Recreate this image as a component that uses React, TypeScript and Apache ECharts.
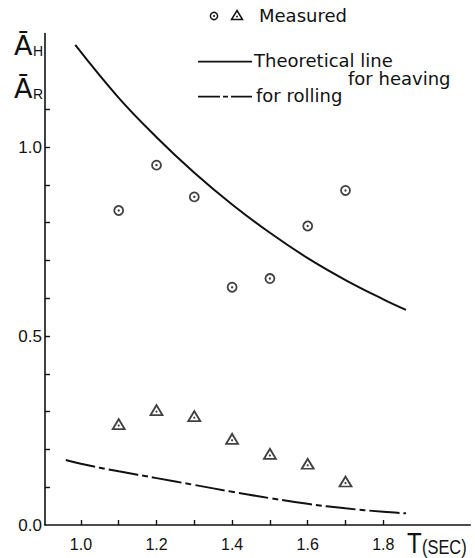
import React, { useEffect, useRef } from "react";
import * as echarts from "echarts";

// Measured data (periods in seconds)
const measuredT = [1.1, 1.2, 1.3, 1.4, 1.5, 1.6, 1.7];
const measuredHeave = [0.832, 0.952, 0.868, 0.629, 0.652, 0.791, 0.885];
const measuredRoll = [0.267, 0.304, 0.288, 0.228, 0.188, 0.162, 0.115];

// Theoretical lines
const heaveT = [0.985, 1.1, 1.2, 1.3, 1.4, 1.5, 1.6, 1.7, 1.8, 1.86];
const heaveA = [1.27, 1.13, 1.026, 0.932, 0.848, 0.773, 0.706, 0.648, 0.597, 0.569];
const rollT = [0.96, 1.0, 1.1, 1.2, 1.3, 1.4, 1.5, 1.6, 1.7, 1.8, 1.86];
const rollA = [0.172, 0.162, 0.142, 0.124, 0.106, 0.088, 0.071, 0.056, 0.044, 0.035, 0.031];

// Axis ticks / labels
const xTicks = [1.0, 1.1, 1.2, 1.3, 1.4, 1.5, 1.6, 1.7, 1.8];
const xLabels = [1.0, 1.2, 1.4, 1.6, 1.8];
const yTicks = [0.1, 0.2, 0.3, 0.4, 0.5, 0.6, 0.7, 0.8, 0.9, 1.0, 1.1];
const yLabels = [0, 0.5, 1.0];

const NUM_FONT = "'Liberation Sans', sans-serif";
const TXT_FONT = "'DejaVu Sans', sans-serif";
const INK = "#111";

export default function App() {
  const ref = useRef<HTMLDivElement>(null);

  useEffect(() => {
    if (!ref.current) return;
    const chart = echarts.init(ref.current, undefined, { renderer: "svg" });
    const pair = (xs: number[], ys: number[]) => xs.map((x, i) => [x, ys[i]]);

    chart.setOption({
      animation: false,
      backgroundColor: "#fff",
      grid: { left: 45, top: 33.6, width: 425.25, height: 491.4, containLabel: false },
      xAxis: {
        type: "value",
        min: 0.905,
        max: 2.03,
        axisLine: { show: true, lineStyle: { color: INK, width: 1.6 } },
        axisTick: { show: true, inside: true, length: 5, customValues: xTicks, lineStyle: { color: INK, width: 1.4 } },
        axisLabel: {
          customValues: xLabels,
          formatter: (v: number) => v.toFixed(1),
          color: INK,
          fontSize: 16,
          fontFamily: NUM_FONT,
          margin: 11,
        },
        splitLine: { show: false },
      },
      yAxis: {
        type: "value",
        min: 0,
        max: 1.3,
        axisLine: { show: true, lineStyle: { color: INK, width: 1.6 } },
        axisTick: { show: true, inside: true, length: 5, customValues: yTicks, lineStyle: { color: INK, width: 1.4 } },
        axisLabel: {
          customValues: yLabels,
          formatter: (v: number) => v.toFixed(1),
          color: INK,
          fontSize: 17,
          fontFamily: NUM_FONT,
          margin: 3,
        },
        splitLine: { show: false },
      },
      series: [
        {
          type: "line",
          data: pair(heaveT, heaveA),
          smooth: 0.4,
          showSymbol: false,
          symbol: "none",
          lineStyle: { color: INK, width: 2 },
        },
        {
          type: "line",
          data: pair(rollT, rollA),
          smooth: 0.4,
          showSymbol: false,
          symbol: "none",
          lineStyle: { color: INK, width: 2, type: [30, 4, 6, 4] },
        },
        {
          type: "scatter",
          data: pair(measuredT, measuredHeave),
          symbol: "circle",
          symbolSize: 9,
          itemStyle: { color: "#fff", borderColor: INK, borderWidth: 1.8 },
          z: 3,
        },
        {
          type: "scatter",
          data: pair(measuredT, measuredHeave),
          symbol: "circle",
          symbolSize: 2.4,
          itemStyle: { color: INK },
          z: 4,
        },
        {
          type: "scatter",
          data: pair(measuredT, measuredRoll),
          symbol: "triangle",
          symbolSize: [12, 10],
          itemStyle: { color: "#fff", borderColor: INK, borderWidth: 1.8 },
          z: 3,
        },
        {
          type: "scatter",
          data: pair(measuredT, measuredRoll),
          symbol: "circle",
          symbolSize: 2.2,
          symbolOffset: [0, 1.5],
          itemStyle: { color: INK },
          z: 4,
        },
      ],
      graphic: [
        // Y axis name: A_H / A_R with overbar
        { type: "text", left: 14, top: 32, style: { text: "Ā", font: `27px ${TXT_FONT}`, fill: INK } },
        { type: "text", left: 33, top: 44, style: { text: "H", font: `14px 'Liberation Sans', sans-serif`, fill: INK } },
        { type: "text", left: 14, top: 75, style: { text: "Ā", font: `27px ${TXT_FONT}`, fill: INK } },
        { type: "text", left: 33, top: 87, style: { text: "R", font: `14px 'Liberation Sans', sans-serif`, fill: INK } },
        // X axis name
        { type: "text", x: 407, y: 527, scaleX: 0.8, style: { text: "T", font: `30px ${NUM_FONT}`, fill: INK } },
        { type: "text", x: 422, y: 537, scaleX: 0.82, style: { text: "(SEC)", font: `20px ${NUM_FONT}`, fill: INK } },
        // Legend
        { type: "circle", shape: { cx: 214, cy: 16, r: 3.6 }, style: { fill: "#fff", stroke: INK, lineWidth: 1.5 } },
        { type: "circle", shape: { cx: 214, cy: 16, r: 1 }, style: { fill: INK } },
        {
          type: "polygon",
          shape: { points: [[237, 10.5], [242.5, 19.5], [231.5, 19.5]] },
          style: { fill: "#fff", stroke: INK, lineWidth: 1.5 },
        },
        { type: "circle", shape: { cx: 237, cy: 16.5, r: 0.9 }, style: { fill: INK } },
        { type: "text", left: 259, top: 6, style: { text: "Measured", font: `18px ${TXT_FONT}`, fill: INK } },
        { type: "line", shape: { x1: 198, y1: 61.7, x2: 252, y2: 61.7 }, style: { stroke: INK, lineWidth: 1.8 } },
        { type: "text", left: 254, top: 51, style: { text: "Theoretical line", font: `18px ${TXT_FONT}`, fill: INK } },
        { type: "text", left: 348, top: 69, style: { text: "for heaving", font: `18px ${TXT_FONT}`, fill: INK } },
        {
          type: "line",
          shape: { x1: 198, y1: 96.7, x2: 252, y2: 96.7 },
          style: { stroke: INK, lineWidth: 1.8, lineDash: [22, 3, 5, 3] },
        },
        { type: "text", left: 256, top: 86, style: { text: "for rolling", font: `18px ${TXT_FONT}`, fill: INK } },
      ],
    });

    return () => chart.dispose();
  }, []);

  return (
    <div
      ref={ref}
      style={{ position: "fixed", left: 0, top: 0, width: 475, height: 558, background: "#fff" }}
    />
  );
}
